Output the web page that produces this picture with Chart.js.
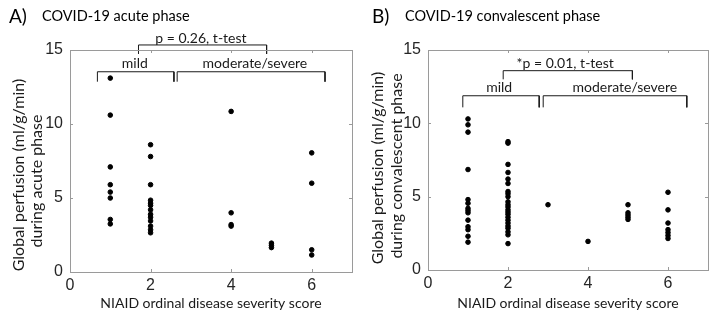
<!DOCTYPE html>
<html lang="en">
<head>
  <meta charset="UTF-8">
  <title>COVID-19 perfusion</title>
  <script src="https://cdn.jsdelivr.net/npm/chart.js@4.4.1/dist/chart.umd.min.js"></script>
  <style>
    html, body { margin: 0; padding: 0; background: #fff; }
    #wrap { position: relative; width: 720px; height: 319px; }
    .panel { position: absolute; top: 0; width: 360px; height: 319px; }
  </style>
</head>
<body>
  <div id="wrap">
    <div class="panel" style="left:0"><canvas id="chartA"></canvas></div>
    <div class="panel" style="left:360px"><canvas id="chartB"></canvas></div>
  </div>

  <script>
    // tick values
    const xTickValues = [0, 2, 4, 6];
    const yTickValues = [0, 5, 10, 15];

    // acute phase: severity score -> perfusion values
    const acuteScores = [1, 2, 4, 5, 6];
    const acuteValues = [
      [13.1, 10.6, 7.1, 5.9, 5.4, 5.0, 3.55, 3.25],
      [8.6, 7.8, 5.9, 4.85, 4.65, 4.5, 4.2, 3.9, 3.7, 3.45, 3.1, 2.85, 2.65],
      [10.85, 4.0, 3.2, 3.1],
      [1.95, 1.8, 1.65],
      [8.05, 6.0, 1.5, 1.15]
    ];

    // convalescent phase
    const convScores = [1, 2, 3, 4, 5, 6];
    const convValues = [
      [10.3, 9.9, 9.4, 6.85, 4.8, 4.55, 4.2, 4.05, 3.9, 3.4, 2.95, 2.75, 2.3, 1.9],
      [8.75, 8.65, 7.2, 6.65, 6.2, 5.9, 5.35, 5.2, 5.0, 4.65, 4.45, 4.3, 4.1, 3.95, 3.8, 3.6, 3.4, 3.2, 3.0, 2.85, 2.6, 2.4, 1.8],
      [4.45],
      [1.95],
      [4.45, 3.9, 3.75, 3.6, 3.45],
      [5.3, 4.1, 3.2, 2.75, 2.55, 2.35, 2.15]
    ];

    // brackets: [x start, x end, top y, leg end y]
    const acuteMild = [0.68, 2.58, 13.53, 12.86];
    const acuteModSev = [2.66, 6.33, 13.53, 12.86];
    const acuteTest = [1.70, 4.88, 15.34, 14.73];
    const convMild = [0.87, 2.78, 11.88, 11.09];
    const convModSev = [2.88, 6.47, 11.88, 11.09];
    const convTest = [1.88, 5.11, 13.59, 13.0];

    // bracket labels: [text, x, y]
    const acuteLabels = [['mild', 1.61, 14.1], ['moderate/severe', 4.59, 14.1], ['p = 0.26, t-test', 3.25, 15.8]];
    const convLabels = [['mild', 1.78, 12.45], ['moderate/severe', 4.92, 12.45], ['*p = 0.01, t-test', 3.43, 14.1]];

    const textFont = 'Lato, "Open Sans", sans-serif';

    function toPoints(scores, values) {
      const pts = [];
      scores.forEach((s, i) => values[i].forEach(v => pts.push({ x: s, y: v })));
      return pts;
    }

    function bracket(b) {
      return {
        type: 'line',
        data: [{ x: b[0], y: b[3] }, { x: b[0], y: b[2] }, { x: b[1], y: b[2] }, { x: b[1], y: b[3] }],
        borderColor: '#1a1a1a',
        borderWidth: 1,
        pointRadius: 0,
        showLine: true,
        clip: false,
        tension: 0
      };
    }

    // box, inward ticks, labels, y title and panel title
    const framePlugin = {
      id: 'frame',
      afterDatasetsDraw(chart, args, opts) {
        const { ctx, chartArea: a, scales } = chart;
        const xs = scales.x, ys = scales.y;
        ctx.save();
        ctx.strokeStyle = '#9a9a9a';
        ctx.lineWidth = 1;
        ctx.strokeRect(Math.round(a.left) + 0.5, Math.round(a.top) + 0.5, Math.round(a.right - a.left), Math.round(a.bottom - a.top));
        ctx.beginPath();
        xTickValues.forEach(v => {
          const px = Math.round(xs.getPixelForValue(v)) + 0.5;
          ctx.moveTo(px, a.bottom); ctx.lineTo(px, a.bottom - 3);
          ctx.moveTo(px, a.top); ctx.lineTo(px, a.top + 3);
        });
        yTickValues.forEach(v => {
          const py = Math.round(ys.getPixelForValue(v)) + 0.5;
          ctx.moveTo(a.left, py); ctx.lineTo(a.left + 3, py);
          ctx.moveTo(a.right, py); ctx.lineTo(a.right - 3, py);
        });
        ctx.stroke();

        ctx.fillStyle = '#1a1a1a';
        ctx.textAlign = 'center';
        ctx.textBaseline = 'middle';
        ctx.font = '14px ' + textFont;
        opts.labels.forEach(l => {
          ctx.fillText(l[0], xs.getPixelForValue(l[1]), ys.getPixelForValue(l[2]));
        });

        // y axis title, two lines
        ctx.font = '16px ' + textFont;
        opts.yTitle.forEach((line, i) => {
          ctx.save();
          ctx.translate(opts.yTitleX[i], opts.yTitleY[i]);
          ctx.rotate(-Math.PI / 2);
          ctx.fillText(line, 0, 0);
          ctx.restore();
        });

        ctx.textAlign = 'left';
        ctx.textBaseline = 'alphabetic';
        ctx.fillStyle = '#000';
        ctx.font = '19px ' + textFont;
        ctx.fillText(opts.letter, opts.titleX, 23);
        ctx.font = '14.5px ' + textFont;
        ctx.fillText(opts.title, opts.titleX + 33, 21);
        ctx.restore();
      }
    };

    function makeChart(id, scores, values, brackets, labels, letter, title, phase, pad) {
      const ctx = document.getElementById(id).getContext('2d');
      return new Chart(ctx, {
        type: 'scatter',
        data: {
          datasets: [
            {
              data: toPoints(scores, values),
              backgroundColor: '#000',
              borderColor: '#000',
              pointRadius: 2.3,
              pointHoverRadius: 2.3
            },
            ...brackets.map(bracket)
          ]
        },
        options: {
          responsive: true,
          maintainAspectRatio: false,
          animation: false,
          events: [],
          layout: { padding: { top: 50, right: pad.right, left: 0, bottom: 0 } },
          plugins: {
            legend: { display: false },
            tooltip: { enabled: false },
            frame: {
              labels: labels, letter: letter, title: title, titleX: pad.titleX,
              yTitle: ['Global perfusion (ml/g/min)', 'during ' + phase + ' phase'],
              yTitleX: pad.yTitleX, yTitleY: pad.yTitleY
            }
          },
          scales: {
            x: {
              type: 'linear',
              min: 0,
              max: 7,
              afterBuildTicks: s => { s.ticks = xTickValues.map(v => ({ value: v })); },
              afterFit: s => { s.height = pad.bottom; },
              grid: { display: false, drawTicks: false },
              border: { display: false },
              ticks: { padding: 4, color: '#262626', font: { family: '"Liberation Sans", Arial, sans-serif', size: 16 } },
              title: {
                display: true,
                text: 'NIAID ordinal disease severity score',
                color: '#1a1a1a',
                font: { family: textFont, size: 14 },
                padding: { top: 2, bottom: 7 }
              }
            },
            y: {
              type: 'linear',
              min: 0,
              max: 15,
              afterBuildTicks: s => { s.ticks = yTickValues.map(v => ({ value: v })); },
              afterFit: s => { s.width = pad.left; },
              grid: { display: false, drawTicks: false },
              border: { display: false },
              ticks: { padding: 7, color: '#262626', font: { family: '"Liberation Sans", Arial, sans-serif', size: 16 } },
              title: { display: false }
            }
          }
        },
        plugins: [framePlugin]
      });
    }

    makeChart('chartA', acuteScores, acuteValues, [acuteMild, acuteModSev, acuteTest], acuteLabels,
      'A)', 'COVID-19 acute phase', 'acute',
      { left: 70, right: 8, bottom: 47, titleX: 9, yTitleX: [19, 37], yTitleY: [175, 181] });
    makeChart('chartB', convScores, convValues, [convMild, convModSev, convTest], convLabels,
      'B)', 'COVID-19 convalescent phase', 'convalescent',
      { left: 68, right: 12, bottom: 49, titleX: 12, yTitleX: [18, 37], yTitleY: [168, 166] });
  </script>
</body>
</html>
